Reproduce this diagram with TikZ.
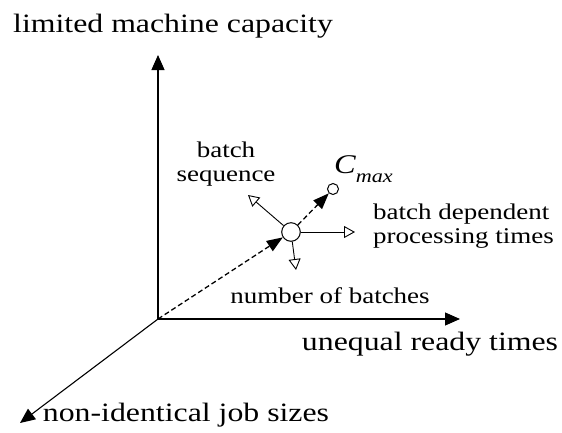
\documentclass[tikz,border=0pt]{standalone}
\usepackage{fontspec}
\setmainfont[FakeStretch=1.2]{Liberation Serif}
\usetikzlibrary{arrows.meta}
\begin{document}
\begin{tikzpicture}[x=1pt,y=-1pt,
  axis/.style={line width=1.1pt,-{Triangle[length=15pt,width=13pt]}},
  dashline/.style={line width=1.3pt,dash pattern=on 5pt off 3pt,-{Triangle[length=16pt,width=12pt]}},
  openarr/.style={line width=0.9pt,-{Triangle[open,length=11pt,width=12pt,line width=0.9pt]}},
  ring/.style={circle,draw,line width=1pt,inner sep=0pt,fill=white},
  bigtxt/.style={font=\fontsize{26.5}{30}\selectfont,inner sep=0pt},
  smalltxt/.style={font=\fontsize{22.5}{24}\selectfont,inner sep=0pt}]
\useasboundingbox (0,0) rectangle (562,432);
\coordinate (O) at (158,319);
\coordinate (ztop) at (158,55);
\coordinate (xend) at (460,319);
\coordinate (yend) at (20,423);
\node[ring,minimum size=18.6pt] (bigc) at (291,232) {};
\node[ring,minimum size=11pt] (smallc) at (333,189) {};
\coordinate (bs) at (248,195);
\coordinate (bd) at (355,232);
\coordinate (nb) at (296,270);
\draw[axis] (O) -- (ztop);
\draw[axis] (O) -- (xend);
\draw[axis] (O) -- (yend);
\draw[dashline] (O) -- (bigc);
\draw[dashline] (bigc) -- (smallc);
\draw[openarr] (bigc) -- (bs);
\draw[openarr] (bigc) -- (bd);
\draw[openarr] (bigc) -- (nb);
\node[bigtxt,anchor=base] (lmc) at (173,32) {limited machine capacity};
\node[bigtxt,anchor=base] (urt) at (430,350) {unequal ready times};
\node[bigtxt,anchor=base] (njs) at (186,421) {non-identical job sizes};
\node[smalltxt,anchor=base] (nob) at (330,303) {number of batches};
\node[smalltxt,anchor=base,align=center] (bsq) at (226,181) {batch\\sequence};
\node[smalltxt,anchor=base west,align=left] (bdp) at (373,243) {batch dependent\\processing times};
\node[inner sep=0pt,anchor=base west] (cmax) at (334,173) {\fontsize{27}{30}\selectfont\itshape C\raisebox{-9pt}{\fontsize{18.5}{20}\selectfont max}};
\end{tikzpicture}
\end{document}
